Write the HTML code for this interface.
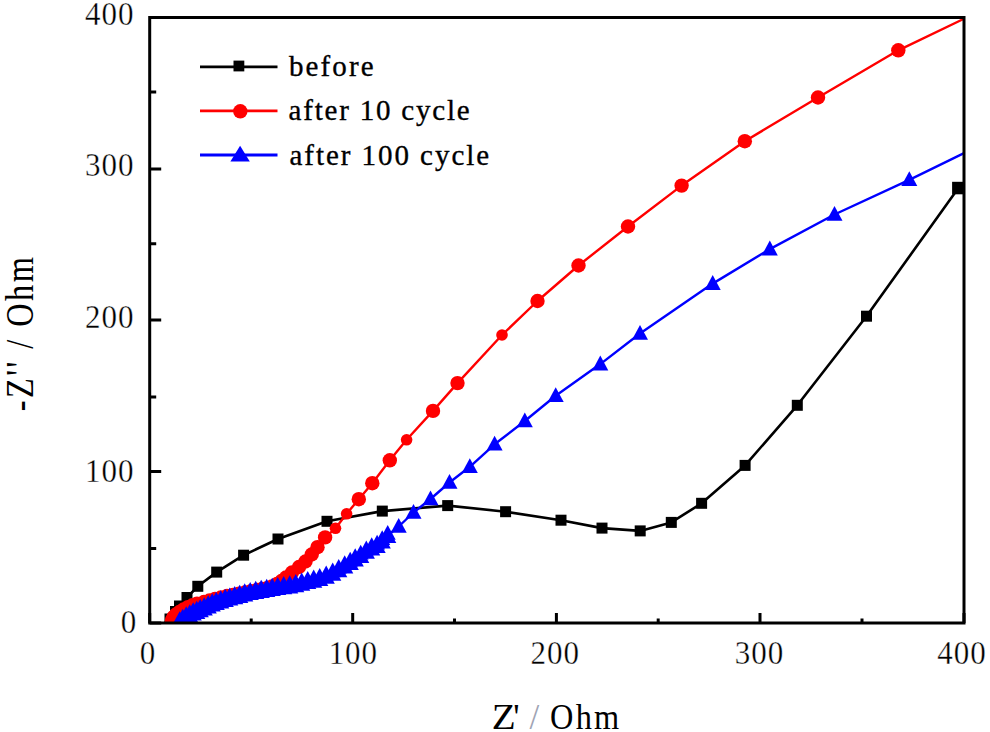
<!DOCTYPE html>
<html><head><meta charset="utf-8"><style>
html,body{margin:0;padding:0;background:#fff;width:990px;height:732px;overflow:hidden}
svg{display:block}
text{font-family:"Liberation Serif",serif;fill:#000}
.tl{stroke:#fff;stroke-width:0.35px}
</style></head><body>
<svg width="990" height="732" viewBox="0 0 990 732">
<defs><clipPath id="c"><rect x="149.7" y="17.5" width="814.3" height="605.5"/></clipPath></defs>
<g clip-path="url(#c)">
<polyline points="165.0,623.0 170.0,619.0 175.5,611.5 179.5,606.0 187.0,597.5 197.8,586.3 216.7,572.1 243.6,555.2 278.0,539.0 327.0,521.3 382.3,511.1 447.7,505.6 505.6,511.7 561.0,520.2 602.0,528.1 640.2,530.9 671.3,522.4 701.6,503.3 745.1,465.4 797.3,405.3 866.5,316.2 958.4,188.1" fill="none" stroke="#000" stroke-width="2.6" stroke-linejoin="round"/>
<g fill="#000"><rect x="164.5" y="613.5" width="11" height="11"/><rect x="170.0" y="606.0" width="11" height="11"/><rect x="174.0" y="600.5" width="11" height="11"/><rect x="181.5" y="592.0" width="11" height="11"/><rect x="192.3" y="580.8" width="11" height="11"/><rect x="211.2" y="566.6" width="11" height="11"/><rect x="238.1" y="549.7" width="11" height="11"/><rect x="272.5" y="533.5" width="11" height="11"/><rect x="321.5" y="515.8" width="11" height="11"/><rect x="376.8" y="505.6" width="11" height="11"/><rect x="442.2" y="500.1" width="11" height="11"/><rect x="500.1" y="506.2" width="11" height="11"/><rect x="555.5" y="514.7" width="11" height="11"/><rect x="596.5" y="522.6" width="11" height="11"/><rect x="634.7" y="525.4" width="11" height="11"/><rect x="665.8" y="516.9" width="11" height="11"/><rect x="696.1" y="497.8" width="11" height="11"/><rect x="739.6" y="459.9" width="11" height="11"/><rect x="791.8" y="399.8" width="11" height="11"/><rect x="861.0" y="310.7" width="11" height="11"/><rect x="952.1" y="181.8" width="12.5" height="12.5"/></g>
<polyline points="171.5,623.0 172.0,620.0 173.5,617.0 176.0,614.5 179.5,612.0 183.5,609.5 188.0,607.2 192.5,605.3 197.0,603.7 204.0,602.0 209.5,600.5 215.0,599.0 221.0,597.5 227.0,596.0 233.0,595.0 239.0,593.8 245.0,592.5 251.0,591.2 257.0,590.0 262.0,589.0 267.0,588.2 272.0,586.5 277.0,584.0 281.5,581.0 286.0,577.5 292.0,572.5 299.0,567.0 305.5,561.5 311.7,554.5 317.5,547.2 325.1,537.4 335.5,528.3 346.6,513.8 358.8,499.2 372.3,483.2 389.8,460.3 406.6,439.8 433.0,410.9 457.5,383.1 502.0,335.0 537.5,301.0 578.5,265.5 628.0,226.5 681.6,185.6 744.8,141.2 818.0,97.5 898.3,50.3 975.0,13.5" fill="none" stroke="#f00" stroke-width="2.4" stroke-linejoin="round"/>
<g fill="#f00"><circle cx="171.5" cy="623.0" r="7.2"/><circle cx="172.0" cy="620.0" r="7.2"/><circle cx="173.5" cy="617.0" r="7.2"/><circle cx="176.0" cy="614.5" r="7.2"/><circle cx="179.5" cy="612.0" r="7.2"/><circle cx="183.5" cy="609.5" r="7.2"/><circle cx="188.0" cy="607.2" r="7.2"/><circle cx="192.5" cy="605.3" r="7.2"/><circle cx="197.0" cy="603.7" r="7.2"/><circle cx="204.0" cy="602.0" r="7.2"/><circle cx="209.5" cy="600.5" r="7.2"/><circle cx="215.0" cy="599.0" r="7.2"/><circle cx="221.0" cy="597.5" r="7.2"/><circle cx="227.0" cy="596.0" r="7.2"/><circle cx="233.0" cy="595.0" r="7.2"/><circle cx="239.0" cy="593.8" r="7.2"/><circle cx="245.0" cy="592.5" r="7.2"/><circle cx="251.0" cy="591.2" r="7.2"/><circle cx="257.0" cy="590.0" r="7.2"/><circle cx="262.0" cy="589.0" r="7.2"/><circle cx="267.0" cy="588.2" r="7.2"/><circle cx="272.0" cy="586.5" r="7.2"/><circle cx="277.0" cy="584.0" r="7.2"/><circle cx="281.5" cy="581.0" r="7.2"/><circle cx="286.0" cy="577.5" r="7.2"/><circle cx="292.0" cy="572.5" r="7.2"/><circle cx="299.0" cy="567.0" r="7.2"/><circle cx="305.5" cy="561.5" r="7.2"/><circle cx="311.7" cy="554.5" r="7.2"/><circle cx="317.5" cy="547.2" r="7.2"/><circle cx="325.1" cy="537.4" r="7.2"/><circle cx="335.5" cy="528.3" r="5.8"/><circle cx="346.6" cy="513.8" r="5.8"/><circle cx="358.8" cy="499.2" r="7.2"/><circle cx="372.3" cy="483.2" r="7.2"/><circle cx="389.8" cy="460.3" r="7.2"/><circle cx="406.6" cy="439.8" r="5.8"/><circle cx="433.0" cy="410.9" r="7.2"/><circle cx="457.5" cy="383.1" r="7.2"/><circle cx="502.0" cy="335.0" r="5.8"/><circle cx="537.5" cy="301.0" r="7.2"/><circle cx="578.5" cy="265.5" r="7.2"/><circle cx="628.0" cy="226.5" r="7.2"/><circle cx="681.6" cy="185.6" r="7.2"/><circle cx="744.8" cy="141.2" r="7.2"/><circle cx="818.0" cy="97.5" r="7.2"/><circle cx="898.3" cy="50.3" r="7.2"/></g>
<polyline points="180.0,621.5 183.0,619.0 186.5,616.5 190.0,614.5 193.5,612.5 197.0,611.0 200.5,609.3 204.5,607.5 208.5,605.5 212.5,603.5 216.5,602.0 221.0,600.5 225.5,599.0 230.0,597.7 235.0,596.3 240.0,595.0 245.0,593.5 250.5,592.2 256.0,591.0 261.5,590.0 267.0,589.0 272.5,588.0 278.0,587.2 284.0,586.4 290.0,585.5 296.0,584.3 302.0,582.8 308.0,581.2 314.0,579.8 320.0,578.2 326.5,575.8 333.0,572.8 339.0,569.3 345.0,565.5 350.5,562.0 355.5,558.5 361.0,555.0 366.6,550.8 372.0,547.5 377.4,545.0 382.5,540.5 388.0,535.2 398.7,526.5 413.5,512.5 430.5,499.0 449.5,482.5 469.8,466.8 494.6,444.3 524.8,421.0 555.7,395.7 600.3,364.1 640.0,333.5 712.7,283.6 769.8,249.1 834.5,214.5 909.3,179.8 990.0,140.5" fill="none" stroke="#00f" stroke-width="2.4" stroke-linejoin="round"/>
<g fill="#00f"><path d="M179.7 611.2L187.7 626.0L171.7 626.0Z"/><path d="M180.3 614.6L188.3 629.4L172.3 629.4Z"/><path d="M182.7 608.7L190.7 623.5L174.7 623.5Z"/><path d="M183.3 612.1L191.3 626.9L175.3 626.9Z"/><path d="M186.2 606.2L194.2 621.0L178.2 621.0Z"/><path d="M186.8 609.6L194.8 624.4L178.8 624.4Z"/><path d="M189.7 604.2L197.7 619.0L181.7 619.0Z"/><path d="M190.3 607.6L198.3 622.4L182.3 622.4Z"/><path d="M193.2 602.2L201.2 617.0L185.2 617.0Z"/><path d="M193.8 605.6L201.8 620.4L185.8 620.4Z"/><path d="M196.7 600.7L204.7 615.5L188.7 615.5Z"/><path d="M197.3 604.1L205.3 618.9L189.3 618.9Z"/><path d="M200.2 599.0L208.2 613.8L192.2 613.8Z"/><path d="M200.8 602.4L208.8 617.2L192.8 617.2Z"/><path d="M204.2 597.2L212.2 612.0L196.2 612.0Z"/><path d="M204.8 600.6L212.8 615.4L196.8 615.4Z"/><path d="M208.2 595.2L216.2 610.0L200.2 610.0Z"/><path d="M208.8 598.6L216.8 613.4L200.8 613.4Z"/><path d="M212.2 593.2L220.2 608.0L204.2 608.0Z"/><path d="M212.8 596.6L220.8 611.4L204.8 611.4Z"/><path d="M216.2 591.7L224.2 606.5L208.2 606.5Z"/><path d="M216.8 595.1L224.8 609.9L208.8 609.9Z"/><path d="M220.7 590.2L228.7 605.0L212.7 605.0Z"/><path d="M221.3 593.6L229.3 608.4L213.3 608.4Z"/><path d="M225.2 588.7L233.2 603.5L217.2 603.5Z"/><path d="M225.8 592.1L233.8 606.9L217.8 606.9Z"/><path d="M229.7 587.4L237.7 602.2L221.7 602.2Z"/><path d="M230.3 590.8L238.3 605.6L222.3 605.6Z"/><path d="M234.7 586.0L242.7 600.8L226.7 600.8Z"/><path d="M235.3 589.4L243.3 604.2L227.3 604.2Z"/><path d="M239.7 584.7L247.7 599.5L231.7 599.5Z"/><path d="M240.3 588.1L248.3 602.9L232.3 602.9Z"/><path d="M244.7 583.2L252.7 598.0L236.7 598.0Z"/><path d="M245.3 586.6L253.3 601.4L237.3 601.4Z"/><path d="M250.2 581.9L258.2 596.7L242.2 596.7Z"/><path d="M250.8 585.3L258.8 600.1L242.8 600.1Z"/><path d="M255.7 580.7L263.7 595.5L247.7 595.5Z"/><path d="M256.3 584.1L264.3 598.9L248.3 598.9Z"/><path d="M261.2 579.7L269.2 594.5L253.2 594.5Z"/><path d="M261.8 583.1L269.8 597.9L253.8 597.9Z"/><path d="M266.7 578.7L274.7 593.5L258.7 593.5Z"/><path d="M267.3 582.1L275.3 596.9L259.3 596.9Z"/><path d="M272.2 577.7L280.2 592.5L264.2 592.5Z"/><path d="M272.8 581.1L280.8 595.9L264.8 595.9Z"/><path d="M277.7 576.9L285.7 591.7L269.7 591.7Z"/><path d="M278.3 580.3L286.3 595.1L270.3 595.1Z"/><path d="M283.7 576.1L291.7 590.9L275.7 590.9Z"/><path d="M284.3 579.5L292.3 594.3L276.3 594.3Z"/><path d="M289.7 575.2L297.7 590.0L281.7 590.0Z"/><path d="M290.3 578.6L298.3 593.4L282.3 593.4Z"/><path d="M295.7 574.0L303.7 588.8L287.7 588.8Z"/><path d="M296.3 577.4L304.3 592.2L288.3 592.2Z"/><path d="M301.7 572.5L309.7 587.3L293.7 587.3Z"/><path d="M302.3 575.9L310.3 590.7L294.3 590.7Z"/><path d="M307.7 570.9L315.7 585.7L299.7 585.7Z"/><path d="M308.3 574.3L316.3 589.1L300.3 589.1Z"/><path d="M313.7 569.5L321.7 584.3L305.7 584.3Z"/><path d="M314.3 572.9L322.3 587.7L306.3 587.7Z"/><path d="M319.7 567.9L327.7 582.7L311.7 582.7Z"/><path d="M320.3 571.3L328.3 586.1L312.3 586.1Z"/><path d="M326.2 565.5L334.2 580.3L318.2 580.3Z"/><path d="M326.8 568.9L334.8 583.7L318.8 583.7Z"/><path d="M332.7 562.5L340.7 577.3L324.7 577.3Z"/><path d="M333.3 565.9L341.3 580.7L325.3 580.7Z"/><path d="M338.7 559.0L346.7 573.8L330.7 573.8Z"/><path d="M339.3 562.4L347.3 577.2L331.3 577.2Z"/><path d="M344.7 555.2L352.7 570.0L336.7 570.0Z"/><path d="M345.3 558.6L353.3 573.4L337.3 573.4Z"/><path d="M350.2 551.7L358.2 566.5L342.2 566.5Z"/><path d="M350.8 555.1L358.8 569.9L342.8 569.9Z"/><path d="M355.2 548.2L363.2 563.0L347.2 563.0Z"/><path d="M355.8 551.6L363.8 566.4L347.8 566.4Z"/><path d="M360.7 544.7L368.7 559.5L352.7 559.5Z"/><path d="M361.3 548.1L369.3 562.9L353.3 562.9Z"/><path d="M366.3 540.5L374.3 555.3L358.3 555.3Z"/><path d="M366.9 543.9L374.9 558.7L358.9 558.7Z"/><path d="M371.7 537.2L379.7 552.0L363.7 552.0Z"/><path d="M372.3 540.6L380.3 555.4L364.3 555.4Z"/><path d="M377.1 534.7L385.1 549.5L369.1 549.5Z"/><path d="M377.7 538.1L385.7 552.9L369.7 552.9Z"/><path d="M382.2 530.2L390.2 545.0L374.2 545.0Z"/><path d="M382.8 533.6L390.8 548.4L374.8 548.4Z"/><path d="M387.7 524.9L395.7 539.7L379.7 539.7Z"/><path d="M388.3 528.3L396.3 543.1L380.3 543.1Z"/><path d="M398.7 518.0L406.7 532.8L390.7 532.8Z"/><path d="M413.5 504.0L421.5 518.8L405.5 518.8Z"/><path d="M430.5 490.5L438.5 505.3L422.5 505.3Z"/><path d="M449.5 474.0L457.5 488.8L441.5 488.8Z"/><path d="M469.8 458.3L477.8 473.1L461.8 473.1Z"/><path d="M494.6 435.8L502.6 450.6L486.6 450.6Z"/><path d="M524.8 412.5L532.8 427.3L516.8 427.3Z"/><path d="M555.7 387.2L563.7 402.0L547.7 402.0Z"/><path d="M600.3 355.6L608.3 370.4L592.3 370.4Z"/><path d="M640.0 325.0L648.0 339.8L632.0 339.8Z"/><path d="M712.7 275.1L720.7 289.9L704.7 289.9Z"/><path d="M769.8 240.6L777.8 255.4L761.8 255.4Z"/><path d="M834.5 206.0L842.5 220.8L826.5 220.8Z"/><path d="M909.3 171.3L917.3 186.1L901.3 186.1Z"/></g>
</g>
<rect x="149.7" y="17.5" width="814.3" height="605.5" fill="none" stroke="#000" stroke-width="3"/>
<path d="M149.7 623.0V613.0M251.2 623.0V618.5M352.7 623.0V613.0M454.5 623.0V618.5M556.4 623.0V613.0M658.2 623.0V618.5M760.0 623.0V613.0M862.0 623.0V618.5M964.0 623.0V613.0M149.7 623.0H161.2M149.7 471.6H161.2M149.7 320.0H161.2M149.7 168.9H161.2M149.7 17.5H161.2M149.7 548.6H156.2M149.7 397.0H156.2M149.7 243.8H156.2M149.7 92.0H156.2" stroke="#000" stroke-width="3" fill="none"/>
<g transform="translate(137.3,633.2) scale(0.94,1.03)"><text x="0" y="0" text-anchor="end" font-family="Liberation Serif" font-size="33" letter-spacing="1" class="tl">0</text></g>
<g transform="translate(134.4,481.5) scale(0.94,1.03)"><text x="0" y="0" text-anchor="end" font-family="Liberation Serif" font-size="33" letter-spacing="1" class="tl">100</text></g>
<g transform="translate(134.4,327.5) scale(0.94,1.03)"><text x="0" y="0" text-anchor="end" font-family="Liberation Serif" font-size="33" letter-spacing="1" class="tl">200</text></g>
<g transform="translate(134.4,176.2) scale(0.94,1.03)"><text x="0" y="0" text-anchor="end" font-family="Liberation Serif" font-size="33" letter-spacing="1" class="tl">300</text></g>
<g transform="translate(134.4,24.8) scale(0.94,1.03)"><text x="0" y="0" text-anchor="end" font-family="Liberation Serif" font-size="33" letter-spacing="1" class="tl">400</text></g>
<g transform="translate(148.0,663.6) scale(0.94,1.03)"><text x="0" y="0" text-anchor="middle" font-family="Liberation Serif" font-size="33" letter-spacing="1" class="tl">0</text></g>
<g transform="translate(353.3,663.6) scale(0.94,1.03)"><text x="0" y="0" text-anchor="middle" font-family="Liberation Serif" font-size="33" letter-spacing="1" class="tl">100</text></g>
<g transform="translate(555.2,663.6) scale(0.94,1.03)"><text x="0" y="0" text-anchor="middle" font-family="Liberation Serif" font-size="33" letter-spacing="1" class="tl">200</text></g>
<g transform="translate(759.4,663.6) scale(0.94,1.03)"><text x="0" y="0" text-anchor="middle" font-family="Liberation Serif" font-size="33" letter-spacing="1" class="tl">300</text></g>
<g transform="translate(961.9,663.6) scale(0.94,1.03)"><text x="0" y="0" text-anchor="middle" font-family="Liberation Serif" font-size="33" letter-spacing="1" class="tl">400</text></g>
<g transform="translate(491.7,728.5) scale(1.12,1)"><text x="0" y="0" font-family="Liberation Serif" font-size="35">Z</text></g>
<text x="513.3" y="728.5" font-family="Liberation Serif" font-size="35">'</text>
<text x="529.5" y="728.5" font-family="Liberation Serif" font-size="35" fill="#a0a4b4" style="fill:#a0a4b4">/</text>
<g transform="translate(550.1,728.5) scale(0.925,1)"><text x="0" y="0" font-family="Liberation Serif" font-size="35" letter-spacing="2.4">Ohm</text></g>
<g transform="translate(32.6,333.0) rotate(-90) scale(0.9,1.12)"><text x="0" y="0" text-anchor="middle" font-family="Liberation Serif" font-size="36" letter-spacing="2.7">-Z'' / Ohm</text></g>
<line x1="200" y1="66.9" x2="277.5" y2="66.9" stroke="#000" stroke-width="2.8"/>
<rect x="233.5" y="60.6" width="10.8" height="10.8" fill="#000"/>
<line x1="200" y1="110.9" x2="277.5" y2="110.9" stroke="#f00" stroke-width="2.8"/>
<circle cx="240.3" cy="111.3" r="7.2" fill="#f00"/>
<line x1="200" y1="155" x2="277.5" y2="155" stroke="#00f" stroke-width="2.8"/>
<path d="M240.1 145.8L249.8 161.6L230.4 161.6Z" fill="#00f"/>
<text x="289" y="76.3" font-family="Liberation Serif" font-size="29" letter-spacing="2.1" stroke="#000" stroke-width="0.35">before</text>
<text x="288.5" y="120" font-family="Liberation Serif" font-size="29" letter-spacing="1.8" stroke="#000" stroke-width="0.35">after 10 cycle</text>
<text x="289.5" y="164.5" font-family="Liberation Serif" font-size="29" letter-spacing="1.95" stroke="#000" stroke-width="0.35">after 100 cycle</text>
</svg>
</body></html>
